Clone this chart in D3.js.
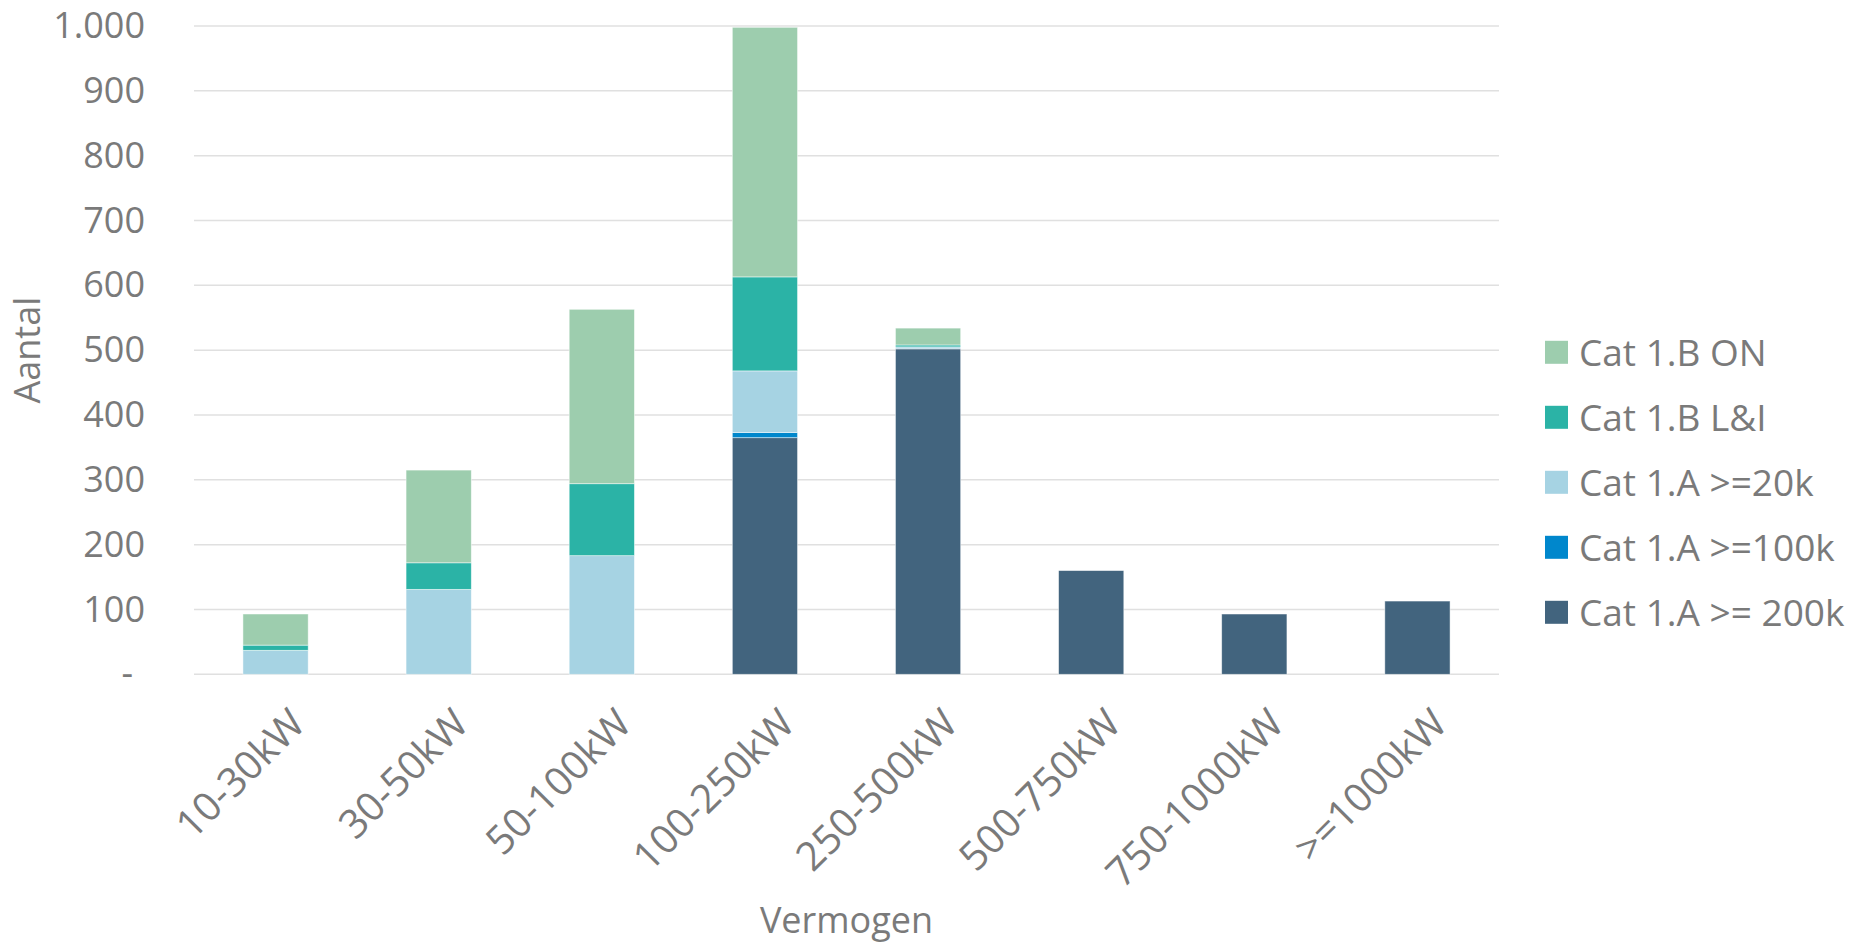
<!doctype html>
<html>
<head>
<meta charset="utf-8">
<style>
body { margin: 0; background: #fff; }
text { font-family: "Open Sans", "Noto Sans", sans-serif; fill: #7a7a7a; }
</style>
<script src="https://d3js.org/d3.v7.min.js"></script>
</head>
<body>
<svg width="1857" height="943"></svg>
<script>
var categories = ["10-30kW", "30-50kW", "50-100kW", "100-250kW", "250-500kW", "500-750kW", "750-1000kW", ">=1000kW"];
var cat1A200k = [0, 0, 0, 365, 502, 160, 93, 113];
var cat1A100k = [0, 0, 0, 8, 0, 0, 0, 0];
var cat1A20k = [37, 131, 183, 95, 3, 0, 0, 0];
var cat1BLI = [8, 41, 111, 145, 3, 0, 0, 0];
var cat1BON = [48, 143, 269, 385, 26, 0, 0, 0];
var yTicks = [0, 100, 200, 300, 400, 500, 600, 700, 800, 900, 1000];

// stacking order bottom -> top
var series = [
	{ name: "Cat 1.A >= 200k", values: cat1A200k, color: "#42647e" },
	{ name: "Cat 1.A >=100k", values: cat1A100k, color: "#0087cc" },
	{ name: "Cat 1.A >=20k", values: cat1A20k, color: "#a6d3e3" },
	{ name: "Cat 1.B L&I", values: cat1BLI, color: "#2bb3a6" },
	{ name: "Cat 1.B ON", values: cat1BON, color: "#9dcdae" }
];

var svg = d3.select("svg");
var plotL = 194, plotR = 1499, plotT = 26, plotB = 674.3;

var x = d3.scaleBand().domain(categories).range([plotL, plotR])
	.paddingInner(0.6).paddingOuter(0.3);
var y = d3.scaleLinear().domain([0, 1000]).range([plotB, plotT]);

var nl = d3.formatLocale({ decimal: ",", thousands: ".", grouping: [3], currency: ["€", ""] });
var fmt = nl.format(",d");

// gridlines
svg.append("g").selectAll("line").data(yTicks).enter().append("line")
	.attr("x1", plotL).attr("x2", plotR)
	.attr("y1", function(d) { return y(d); })
	.attr("y2", function(d) { return y(d); })
	.attr("stroke", "#e0e0e0").attr("stroke-width", 1.5);

// y axis labels
var yAxis = svg.append("g").attr("transform", "translate(" + plotL + ",0)")
	.call(d3.axisLeft(y).tickValues(yTicks).tickSize(0).tickPadding(49)
		.tickFormat(function(d) { return d === 0 ? "-" : fmt(d); }));
yAxis.select(".domain").remove();
yAxis.selectAll("text").attr("font-size", 36).attr("fill", "#7a7a7a")
	.attr("font-family", "'Open Sans', sans-serif")
	.attr("dx", function(d) { return d === 0 ? -12 : 0; });

// stacked bars
var table = categories.map(function(c, i) {
	var row = { cat: c };
	series.forEach(function(s) { row[s.name] = s.values[i]; });
	return row;
});
var stack = d3.stack().keys(series.map(function(s) { return s.name; }));
var layers = stack(table);

svg.append("g").selectAll("g").data(layers).enter().append("g")
	.attr("fill", function(d, i) { return series[i].color; })
	.selectAll("rect").data(function(d) { return d; }).enter()
	.filter(function(d) { return d[1] - d[0] > 0; })
	.append("rect")
	.attr("x", function(d) { return x(d.data.cat); })
	.attr("width", x.bandwidth())
	.attr("y", function(d) { return y(d[1]); })
	.attr("height", function(d) { return y(d[0]) - y(d[1]); })
	.attr("stroke", "#ffffff").attr("stroke-width", 0.8).attr("stroke-opacity", 0.6);

// x labels rotated
var xAxis = svg.append("g").attr("transform", "translate(0," + plotB + ")")
	.call(d3.axisBottom(x).tickSize(0).tickPadding(0));
xAxis.select(".domain").remove();
xAxis.selectAll("text")
	.attr("font-size", 40).attr("fill", "#7a7a7a")
	.attr("font-family", "'Open Sans', sans-serif")
	.attr("text-anchor", "end")
	.attr("y", 0).attr("dy", "0.35em")
	.attr("transform", "translate(22,42) rotate(-45)");

// axis titles
svg.append("text").attr("x", (plotL + plotR) / 2).attr("y", 933)
	.attr("text-anchor", "middle").attr("font-size", 36).text("Vermogen");
svg.append("text").attr("transform", "translate(40," + (plotT + plotB) / 2 + ") rotate(-90)")
	.attr("text-anchor", "middle").attr("font-size", 36).text("Aantal");

// legend
var legendItems = series.slice().reverse();
var lg = svg.append("g").selectAll("g").data(legendItems).enter().append("g")
	.attr("transform", function(d, i) { return "translate(1545," + (352.3 + i * 65) + ")"; });
lg.append("rect").attr("x", 0).attr("y", -11.5).attr("width", 23).attr("height", 23)
	.attr("fill", function(d) { return d.color; });
lg.append("text").attr("x", 34).attr("y", 0).attr("dy", "0.36em")
	.attr("font-size", 37).text(function(d) { return d.name; });
</script>
</body>
</html>
